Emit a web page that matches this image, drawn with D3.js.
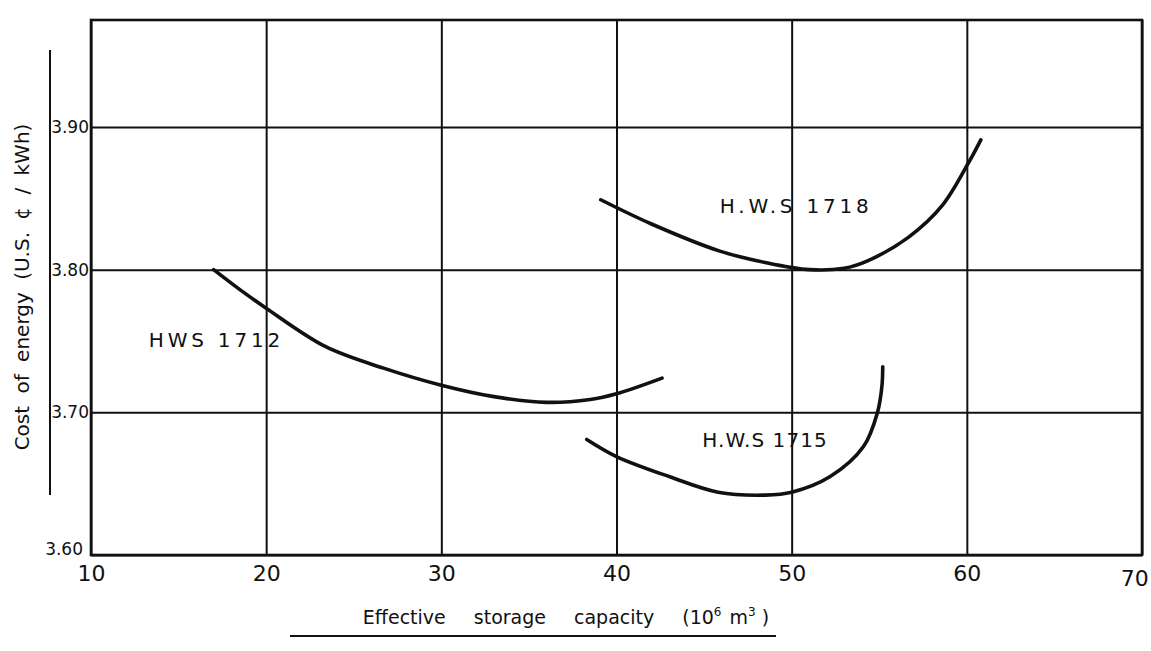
<html>
<head>
  <meta charset="utf-8" />
<style>
  html, body { margin: 0; padding: 0; background: #fff; }
  svg { display: block; }
  text { font-family: "DejaVu Sans", "Liberation Sans", sans-serif; fill: #111; }
</style>
</head>
<body>
<div id="graph"></div>
<script src="https://cdnjs.cloudflare.com/ajax/libs/d3/7.8.5/d3.min.js"></script>
<script>

// x ticks / y ticks
var xTicks = [10, 20, 30, 40, 50, 60, 70];
var yTicks = [3.60, 3.70, 3.80, 3.90];

// H.W.S 1712
var hws1712X = [17.0, 18.5, 20.0, 23.4, 26.7, 30.0, 33.0, 36.0, 38.5, 40.0, 42.6];
var hws1712Y = [3.800, 3.786, 3.773, 3.746, 3.731, 3.719, 3.711, 3.707, 3.709, 3.713, 3.724];

// H.W.S 1718
var hws1718X = [39.1, 42.0, 45.9, 48.5, 51.0, 53.0, 54.3, 56.7, 58.6, 60.1, 60.8];
var hws1718Y = [3.849, 3.832, 3.813, 3.805, 3.800, 3.801, 3.806, 3.823, 3.845, 3.875, 3.891];

// H.W.S 1715
var hws1715X = [38.3, 40.0, 43.0, 45.8, 48.5, 50.0, 52.2, 54.1, 54.9, 55.15, 55.2];
var hws1715Y = [3.681, 3.669, 3.655, 3.644, 3.642, 3.644, 3.655, 3.676, 3.700, 3.718, 3.732];

var seriesNames = ["HWS  1712", "H.W.S  1718", "H.W.S 1715"];
// label anchors in data units: start x, end x, baseline y
var labelX0 = [13.3, 45.9, 44.9];
var labelX1 = [20.8, 54.4, 52.0];
var labelY  = [3.746, 3.840, 3.676];

var width = 1151, height = 651;
var margin = {top: 20, left: 91, right: 9, bottom: 96};

var svg = d3.select("#graph").append("svg")
    .attr("width", width)
    .attr("height", height);

var x = d3.scaleLinear().domain([10, 70]).range([margin.left, width - margin.right]);
var y = d3.scaleLinear().domain([3.60, 3.975]).range([height - margin.bottom, margin.top]);

var chartW = x(70) - x(10);
var chartH = y(3.60) - y(3.975);

// grid + ticks via axes
var gx = svg.append("g")
    .attr("transform", "translate(0," + y(3.60) + ")")
    .call(d3.axisBottom(x).tickValues(xTicks).tickSize(-chartH).tickPadding(10)
      .tickFormat(d3.format("d")));
gx.select(".domain").remove();
gx.selectAll("line").attr("stroke", "#111").attr("stroke-width", 2);
gx.selectAll("text").attr("font-size", 22).attr("fill", "#111");
gx.selectAll(".tick").filter(function(d) { return d === 70; })
    .select("text").attr("dx", "-0.35em").attr("dy", "0.95em");

var gy = svg.append("g")
    .attr("transform", "translate(" + x(10) + ",0)")
    .call(d3.axisLeft(y).tickValues(yTicks).tickSize(-chartW).tickPadding(2)
      .tickFormat(d3.format(".2f")));
gy.select(".domain").remove();
gy.selectAll("line").attr("stroke", "#111").attr("stroke-width", 2);
gy.selectAll("text").attr("font-size", 17).attr("fill", "#111");
gy.selectAll(".tick").filter(function(d) { return d === 3.60; })
    .select("text").attr("dy", "-0.05em").attr("x", -8);

// frame
svg.append("rect")
    .attr("x", x(10)).attr("y", y(3.975))
    .attr("width", chartW).attr("height", chartH)
    .attr("fill", "none").attr("stroke", "#111").attr("stroke-width", 2.6);

// curves
var line = d3.line()
    .x(function(d) { return x(d[0]); })
    .y(function(d) { return y(d[1]); })
    .curve(d3.curveCatmullRom.alpha(0.5));

var series = [
  d3.zip(hws1712X, hws1712Y),
  d3.zip(hws1718X, hws1718Y),
  d3.zip(hws1715X, hws1715Y)
];

svg.append("g").selectAll("path")
    .data(series)
    .enter().append("path")
    .attr("d", line)
    .attr("fill", "none")
    .attr("stroke", "#111")
    .attr("stroke-width", 3.6)
    .attr("stroke-linecap", "round");

svg.append("g").selectAll("text")
    .data(seriesNames)
    .enter().append("text")
    .attr("x", function(d, i) { return x(labelX0[i]); })
    .attr("y", function(d, i) { return y(labelY[i]); })
    .attr("textLength", function(d, i) { return x(labelX1[i]) - x(labelX0[i]); })
    .attr("lengthAdjust", "spacing")
    .attr("font-size", 20)
    .text(function(d) { return d; });

// y title with rule
var yMid = 287;
svg.append("text")
    .attr("transform", "translate(29," + yMid + ") rotate(-90)")
    .attr("text-anchor", "middle")
    .attr("font-size", 20)
    .attr("word-spacing", 6)
    .text("Cost of energy (U.S. \u00A2 / kWh)");
svg.append("line")
    .attr("x1", 50).attr("x2", 50)
    .attr("y1", 50).attr("y2", 495)
    .attr("stroke", "#111").attr("stroke-width", 2);

// x title with underline
var xt = svg.append("text")
    .attr("x", 566).attr("y", 624)
    .attr("text-anchor", "middle")
    .attr("font-size", 19)
    .attr("word-spacing", 22);
xt.append("tspan").text("Effective storage capacity (10");
xt.append("tspan").attr("dy", -8).attr("font-size", 12).text("6");
xt.append("tspan").attr("dy", 8).attr("word-spacing", 2).text(" m");
xt.append("tspan").attr("dy", -8).attr("font-size", 12).text("3");
xt.append("tspan").attr("dy", 8).attr("word-spacing", 0).text(" )");
svg.append("line")
    .attr("x1", 290).attr("x2", 776)
    .attr("y1", 636).attr("y2", 636)
    .attr("stroke", "#111").attr("stroke-width", 2);

</script>
</body>
</html>
